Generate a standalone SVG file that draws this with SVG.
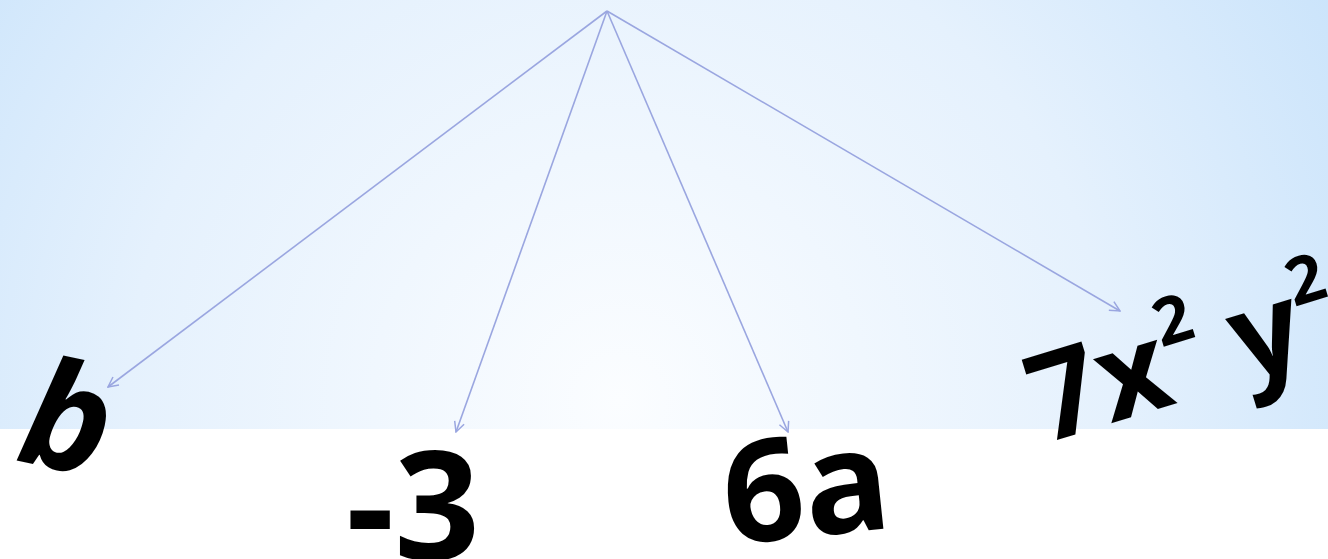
<svg xmlns="http://www.w3.org/2000/svg" width="1328" height="559" viewBox="0 0 1328 559">
<defs>
<radialGradient id="bg" cx="620" cy="400" r="820" gradientUnits="userSpaceOnUse">
<stop offset="0" stop-color="#fbfdff"/>
<stop offset="0.6" stop-color="#e5f1fd"/>
<stop offset="1" stop-color="#cbe4fb"/>
</radialGradient>
<marker id="ah" viewBox="0 0 12 12" refX="11" refY="6" markerWidth="12" markerHeight="12" markerUnits="userSpaceOnUse" orient="auto">
<path d="M1,1 L11,6 L1,11" fill="none" stroke="#9aa6e0" stroke-width="1.5"/>
</marker>
<style>
.c{stroke:#9aa6e0;stroke-width:1.6;fill:none;marker-end:url(#ah)}
.t{font-family:"Open Sans","DejaVu Sans",sans-serif;font-weight:bold;fill:#000}
</style>
</defs>
<rect x="0" y="0" width="1328" height="559" fill="#ffffff"/>
<rect x="0" y="0" width="1328" height="429" fill="url(#bg)"/>
<g id="connectors">
<line class="c" x1="607" y1="11" x2="108" y2="387"/>
<line class="c" x1="607" y1="11" x2="456" y2="432"/>
<line class="c" x1="607" y1="11" x2="788" y2="432"/>
<line class="c" x1="607" y1="11" x2="1120" y2="311"/>
</g>
<g id="node-b"><text class="t" x="14" y="460" font-size="148" font-style="italic" transform="rotate(12 14 460)">b</text></g>
<g id="node-m3"><text class="t" x="346" y="560" font-size="150">-3</text></g>
<g id="node-6a"><text class="t" x="728" y="545" font-size="142" transform="rotate(-6 728 545)">6a</text></g>
<g id="node-7x2y2"><text class="t" x="1044" y="444" font-size="122" transform="rotate(-17 1044 444)">7x<tspan font-size="66" dy="-58">2</tspan><tspan dy="58"> y</tspan><tspan font-size="66" dy="-58">2</tspan></text></g>
</svg>
